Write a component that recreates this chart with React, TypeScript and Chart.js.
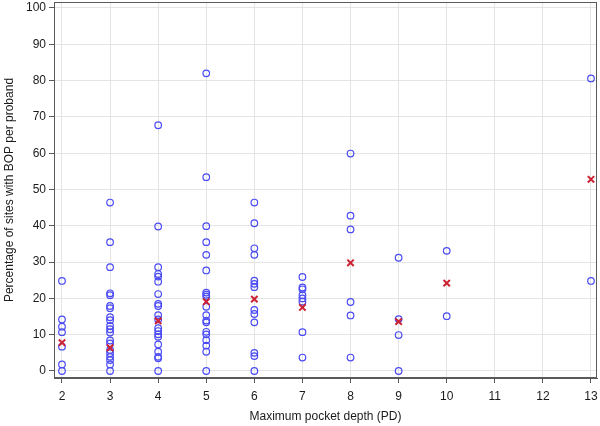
import React, { useEffect, useRef } from "react";
import { Chart, registerables } from "chart.js";

Chart.register(...registerables);

// Observed percentages by maximum pocket depth
const depth2 = [24.8, 14.2, 12.2, 10.7, 6.7, 1.8, 0];
const depth3 = [46.4, 35.5, 28.6, 21.4, 20.9, 17.9, 17.3, 14.8, 14.0, 12.4, 11.5, 10.6, 8.4, 7.6, 5.8, 4.9, 3.9, 3.0, 1.8, 0];
const depth4 = [67.7, 39.8, 28.6, 26.7, 26.0, 24.6, 21.2, 18.5, 17.9, 15.4, 14.2, 11.8, 11.0, 10.1, 9.4, 7.3, 5.3, 3.9, 3.5, 0];
const depth5 = [82.0, 53.4, 39.9, 35.5, 32.0, 27.7, 21.6, 21.0, 20.5, 17.7, 15.4, 13.9, 13.4, 10.8, 10.1, 8.5, 7.0, 5.3, 0];
const depth6 = [46.4, 40.7, 33.8, 32.0, 24.9, 24.0, 23.1, 16.8, 15.7, 13.4, 5.0, 4.1, 0];
const depth7 = [25.9, 23.0, 22.5, 20.9, 20.0, 19.1, 10.7, 3.7];
const depth8 = [59.9, 42.8, 39.0, 19.0, 15.3, 3.7];
const depth9 = [31.2, 14.3, 9.9, 0];
const depth10 = [33.1, 15.1];
const depth13 = [80.6, 24.8];

const observedDepths = [2, 3, 4, 5, 6, 7, 8, 9, 10, 13];
const observedValues = [depth2, depth3, depth4, depth5, depth6, depth7, depth8, depth9, depth10, depth13];

// Means per depth
const meanDepths = [2, 3, 4, 5, 6, 7, 8, 9, 10, 13];
const meanValues = [7.8, 6.4, 13.8, 19.1, 19.8, 17.5, 29.8, 13.6, 24.2, 52.8];

const xTicks = [2, 3, 4, 5, 6, 7, 8, 9, 10, 11, 12, 13];
const yTicks = [0, 10, 20, 30, 40, 50, 60, 70, 80, 90, 100];

const xTitle = "Maximum pocket depth (PD)";
const yTitle = "Percentage of sites with BOP per proband";

const FONT = "'Liberation Sans', Arial, sans-serif";

export default function App() {
  const ref = useRef<HTMLCanvasElement | null>(null);

  useEffect(() => {
    if (!ref.current) return;
    const points: { x: number; y: number }[] = [];
    observedDepths.forEach((d, i) => {
      observedValues[i].forEach((v) => points.push({ x: d, y: v }));
    });
    const means = meanDepths.map((d, i) => ({ x: d, y: meanValues[i] }));

    const framePlugin = {
      id: "frame",
      afterDatasetsDraw(chart: any) {
        const { ctx, chartArea } = chart;
        ctx.save();
        ctx.strokeStyle = "#5a5a5a";
        ctx.lineWidth = 1;
        ctx.strokeRect(chartArea.left + 0.5, chartArea.top + 0.5, chartArea.right - chartArea.left - 1, chartArea.bottom - chartArea.top - 1);
        ctx.restore();
      },
    };

    const chart = new Chart(ref.current, {
      type: "scatter",
      data: {
        datasets: [
          {
            label: "Mean",
            data: means,
            pointStyle: "crossRot",
            pointRadius: 4.5,
            borderColor: "#cc2233",
            backgroundColor: "#cc2233",
            pointBorderWidth: 2,
          },
          {
            label: "Observed",
            data: points,
            pointStyle: "circle",
            pointRadius: 3.3,
            borderColor: "#4b4bf5",
            backgroundColor: "rgba(0,0,0,0)",
            pointBorderWidth: 1.2,
          },
        ],
      },
      options: {
        responsive: false,
        animation: false,
        layout: { autoPadding: false, padding: { top: 2, right: 3, left: 0, bottom: 0 } },
        plugins: {
          legend: { display: false },
          tooltip: { enabled: false },
        },
        scales: {
          x: {
            type: "linear",
            min: 1.834,
            max: 13.125,
            afterBuildTicks: (scale: any) => {
              scale.ticks = xTicks.map((v) => ({ value: v }));
            },
            afterFit: (scale: any) => {
              scale.height = 48;
              scale.paddingLeft = 0;
              scale.paddingRight = 0;
            },
            grid: { color: "#e4e4e4", tickColor: "#5a5a5a", tickLength: 5, lineWidth: 1 },
            border: { color: "#5a5a5a" },
            ticks: { color: "#1a1a1a", font: { family: FONT, size: 12 }, padding: 6, maxRotation: 0 },
            title: { display: true, text: xTitle, color: "#1a1a1a", font: { family: FONT, size: 12 }, padding: { top: 2, bottom: 2 } },
          },
          y: {
            type: "linear",
            min: -1.93,
            max: 101.65,
            afterBuildTicks: (scale: any) => {
              scale.ticks = yTicks.map((v) => ({ value: v }));
            },
            afterFit: (scale: any) => {
              scale.width = 54;
              scale.paddingTop = 0;
              scale.paddingBottom = 0;
            },
            grid: { color: "#e4e4e4", tickColor: "#5a5a5a", tickLength: 5, lineWidth: 1 },
            border: { color: "#5a5a5a" },
            ticks: { color: "#1a1a1a", font: { family: FONT, size: 12 }, padding: 3 },
            title: { display: true, text: yTitle, color: "#1a1a1a", font: { family: FONT, size: 12 }, padding: { top: 2, bottom: 2 } },
          },
        },
      },
      plugins: [framePlugin],
    });
    return () => chart.destroy();
  }, []);

  return (
    <div style={{ position: "fixed", left: 0, top: 0, width: 600, height: 426, background: "#fff" }}>
      <canvas ref={ref} width={600} height={426} />
    </div>
  );
}
